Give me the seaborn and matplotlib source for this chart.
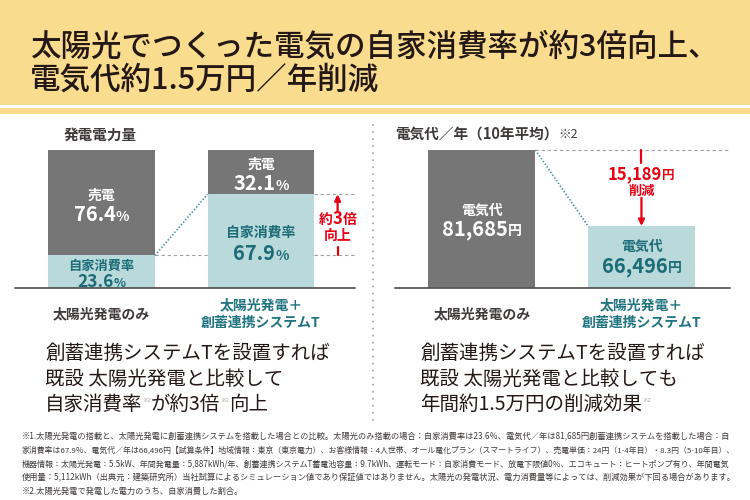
import numpy as np
import pandas as pd
import matplotlib
matplotlib.use("Agg")
import matplotlib.pyplot as plt
import seaborn as sns
from matplotlib.patches import Rectangle
from matplotlib.lines import Line2D
from matplotlib.transforms import IdentityTransform

sns.set_theme(style="white")
plt.rcParams['font.family'] = ['Noto Sans CJK JP', 'DejaVu Sans']

# --- データ ---
categories = ['太陽光発電のみ', '太陽光発電＋\n創蓄連携システムT']
self_rate = [23.6, 67.9]      # 自家消費率 (%)
sell_rate = [76.4, 32.1]      # 売電 (%)
cost = [81685, 66496]         # 電気代／年 (円, 10年平均)
cost_floor = 54100            # 右グラフの縦軸下端（0からではない）

title_lines = ['太陽光でつくった電気の自家消費率が約3倍向上、', '電気代約1.5万円／年削減']
footnotes = [
    '※1.太陽光発電の搭載と、太陽光発電に創蓄連携システムを搭載した場合との比較。太陽光のみ搭載の場合：自家消費率は23.6％、電気代／年は81,685円創蓄連携システムを搭載した場合：自',
    '家消費率は67.9％、電気代／年は66,496円【試算条件】地域情報：東京（東京電力）、お客様情報：4人世帯、オール電化プラン（スマートライフ）、売電単価：24円（1-4年目）・8.3円（5-10年目）、',
    '機器情報：太陽光発電：5.5kW、年間発電量：5,887kWh/年、創蓄連携システムT蓄電池容量：9.7kWh、運転モード：自家消費モード、放電下限値0％、エコキュート：ヒートポンプ有り、年間電気',
    '使用量：5,112kWh（出典元：建築研究所）当社試算によるシミュレーション値であり保証値ではありません。太陽光の発電状況、電力消費量等によっては、削減効果が下回る場合があります。',
    '※2.太陽光発電で発電した電力のうち、自家消費した割合。',
]

# --- 色 ---
YELLOW = '#FADC8E'
GRAY = '#767677'
TEAL = '#B9D9DB'
TEAL_TXT = '#1C6C78'
TEAL_LBL = '#1F7480'
TEAL_LINE = '#3A8F9B'
RED = '#E60012'
INK = '#231815'
DARK = '#3E3A39'
BASE = '#5A5657'
DASH = '#A0A0A0'

W, H, DPI = 750, 500, 100
fig = plt.figure(figsize=(W / DPI, H / DPI), dpi=DPI)
fig.patch.set_facecolor('white')
renderer = fig.canvas.get_renderer()


def pt2px(s):
    return s * DPI / 72


def rich(x, yc, parts, ha='center'):
    # x, yc: 左上原点のpx。parts: (文字, サイズ, 色, 太さ[, 上ずらしpx])
    texts, widths = [], []
    big = max(p[1] for p in parts)
    yb = H - yc - 0.36 * pt2px(big)
    for p in parts:
        s, size, color, weight = p[:4]
        t = fig.text(0, 0, s, transform=IdentityTransform(), va='baseline',
                     fontsize=size, color=color, fontweight=weight)
        texts.append((t, p[4] if len(p) > 4 else 0))
        widths.append(t.get_window_extent(renderer).width)
    x0 = x - sum(widths) / 2 if ha == 'center' else x
    for (t, dy), w in zip(texts, widths):
        t.set_position((x0, yb + dy))
        x0 += w
    return texts[0][0]


def dpx(ax, x, y):
    X, Y = ax.transData.transform((x, y))
    return X, H - Y


# --- ヘッダー帯 ---
fig.patches.append(Rectangle((0, 1 - 105 / H), 1, 105 / H, transform=fig.transFigure,
                             color=YELLOW, lw=0))
fig.patches.append(Rectangle((0, 1 - 114 / H), 1, 6 / H, transform=fig.transFigure,
                             color=YELLOW, lw=0))
for i, line in enumerate(title_lines):
    rich(30, 45 + 33 * i, [(line, 22, INK, 'medium')], ha='left')

# 中央の点線
fig.lines.append(Line2D([373 / W, 373 / W], [1 - 125 / H, 1 - 420 / H], transform=fig.transFigure,
                        color=DASH, lw=1.4, linestyle=(0, (0.01, 3.6)), dash_capstyle='round'))

hw = 0.335  # 棒の半幅

# --- 左: 発電電力量 ---
ax1 = fig.add_axes([15 / W, 1 - 288 / H, 340 / W, 138 / H])
df1 = pd.DataFrame({'cat': categories,
                    'total': [a + b for a, b in zip(self_rate, sell_rate)],
                    'self': self_rate})
sns.barplot(data=df1, x='cat', y='total', color=GRAY, width=2 * hw, saturation=1,
            linewidth=0, errorbar=None, ax=ax1)
sns.barplot(data=df1, x='cat', y='self', color=TEAL, width=2 * hw, saturation=1,
            linewidth=0, errorbar=None, ax=ax1)
ax1.set_xlim(-0.542, 1.589)
ax1.set_ylim(0, 100)
ax1.set_axis_off()
ax1.axhline(0, color=BASE, lw=1.3, clip_on=False)

# つなぎ線・補助線
ax1.plot([hw, 1 - hw], [self_rate[0], self_rate[1]], color=TEAL_LINE, lw=1.2,
         linestyle=(0, (0.8, 1.2)), clip_on=False)
ax1.plot([hw, 1 - hw], [self_rate[0]] * 2, color=DASH, lw=0.8, linestyle=(0, (3, 2.5)), clip_on=False)
for v in self_rate:
    ax1.plot([1 + hw, 1.589], [v, v], color=DASH, lw=0.8, linestyle=(0, (3, 2.5)), clip_on=False)

# 約3倍 矢印
xa = 1 + hw + 0.145
gap = self_rate[1] - self_rate[0]
ax1.annotate('', xy=(xa, self_rate[1]), xytext=(xa, self_rate[1] - 0.28 * gap),
             arrowprops=dict(arrowstyle='-|>', color=RED, lw=1.6, mutation_scale=9,
                             shrinkA=0, shrinkB=0))
ax1.plot([xa, xa], [self_rate[0], self_rate[0] + 0.13 * gap], color=RED, lw=1.6)
x, y = dpx(ax1, xa, self_rate[0] + 0.5 * gap)
rich(x, y - 7, [('約', 10, RED, 'bold'), ('3', 12, RED, 'bold'), ('倍', 10, RED, 'bold')])
rich(x, y + 10, [('向上', 10, RED, 'bold')])

# 棒の中の文字
for i in range(2):
    x, y = dpx(ax1, i, self_rate[i] + sell_rate[i] / 2)
    rich(x, y - 8, [('売電', 10, 'white', 'bold')])
    rich(x, y + 11, [(f'{sell_rate[i]:.1f}', 14.5, 'white', 'bold'), ('%', 10, 'white', 'bold')])
    x, y = dpx(ax1, i, self_rate[i] / 2)
    dy = (-7, 9) if i == 0 else (-9, 12)
    rich(x, y + dy[0], [('自家消費率', 10 if i else 9.5, TEAL_TXT, 'bold')])
    rich(x, y + dy[1], [(f'{self_rate[i]:.1f}', 14.5 if i else 12.5, TEAL_TXT, 'bold'),
                        ('%', 10 if i else 9, TEAL_TXT, 'bold')])

rich(100, 135, [('発電電力量', 10.5, DARK, 'bold')])

# --- 右: 電気代 ---
ax2 = fig.add_axes([395 / W, 1 - 288 / H, 335 / W, 138 / H])
sns.barplot(x=categories, y=cost, hue=categories, palette=[GRAY, TEAL], legend=False,
            width=2 * hw, saturation=1, linewidth=0, errorbar=None, ax=ax2)
ax2.set_xlim(-0.545, 1.555)
ax2.set_ylim(cost_floor, cost[0])
ax2.set_axis_off()
ax2.axhline(cost_floor, color=BASE, lw=1.3, clip_on=False)

ax2.plot([hw, 1 - hw], [cost[0], cost[1]], color=TEAL_LINE, lw=1.2,
         linestyle=(0, (0.8, 1.2)), clip_on=False)
ax2.plot([hw, 1.555], [cost[0]] * 2, color=DASH, lw=0.8, linestyle=(0, (3, 2.5)), clip_on=False)

diff = cost[0] - cost[1]
ax2.plot([1, 1], [cost[0], cost[0] - 0.17 * diff], color=RED, lw=1.6, clip_on=False)
ax2.annotate('', xy=(1, cost[1]), xytext=(1, cost[0] - 0.63 * diff),
             arrowprops=dict(arrowstyle='-|>', color=RED, lw=1.6, mutation_scale=9,
                             shrinkA=0, shrinkB=0))
x, y = dpx(ax2, 1, cost[0] - 0.30 * diff)
rich(x, y, [(f'{diff:,}', 12, RED, 'bold'), ('円', 9, RED, 'bold')])
x, y = dpx(ax2, 1, cost[0] - 0.53 * diff)
rich(x, y, [('削減', 9.5, RED, 'bold')])

for i, c in enumerate(['white', TEAL_TXT]):
    x, y = dpx(ax2, i, (cost[i] + cost_floor) / 2)
    dy = (-9, 9) if i == 0 else (-11, 8)
    rich(x, y + dy[0], [('電気代', 10, c, 'bold')])
    rich(x, y + dy[1], [(f'{cost[i]:,}', 14.5, c, 'bold'), ('円', 10, c, 'bold')])

rich(395, 133, [('電気代／年（10年平均）', 10.5, DARK, 'bold'), ('※2', 9, DARK, 'normal')], ha='left')

# 横軸ラベル
for ax in (ax1, ax2):
    for i, cat in enumerate(categories):
        x, _ = dpx(ax, i, 0)
        color = DARK if i == 0 else TEAL_LBL
        rows = cat.split('\n')
        for j, part in enumerate(rows):
            rich(x, 313 + (j - (len(rows) - 1) / 2) * 17, [(part, 10, color, 'bold')])

# --- 下の説明文 ---
sm = (4, '#9FA0A0', 'normal', 8)
left = [
    [('創蓄連携システムTを設置すれば', 14, INK, 'normal')],
    [('既設 太陽光発電と比較して', 14, INK, 'normal')],
    [('自家消費率', 14, INK, 'normal'), ('※2',) + sm, ('が約3倍', 14, INK, 'normal'),
     ('※1',) + sm, ('向上', 14, INK, 'normal')],
]
right = [
    [('創蓄連携システムTを設置すれば', 14, INK, 'normal')],
    [('既設 太陽光発電と比較しても', 14, INK, 'normal')],
    [('年間約1.5万円の削減効果', 14, INK, 'normal'), ('※2',) + sm],
]
for k, (l, r) in enumerate(zip(left, right)):
    rich(45, 352 + 25.5 * k, l, ha='left')
    rich(420, 352 + 25.5 * k, r, ha='left')

# 注釈: 1〜4行目は幅706pxに揃える
fs0 = 5.9
for k, line in enumerate(footnotes):
    t = rich(22, 436 + 13.8 * k, [(line, fs0, DARK, 'normal')], ha='left')
    if k < 4:
        w = t.get_window_extent(renderer).width
        fs = fs0 * 706 / w
        t.set_fontsize(fs)
        if k == 0:
            fs_first = fs
    else:
        t.set_fontsize(fs_first)

fig.savefig('out.png', dpi=DPI)
